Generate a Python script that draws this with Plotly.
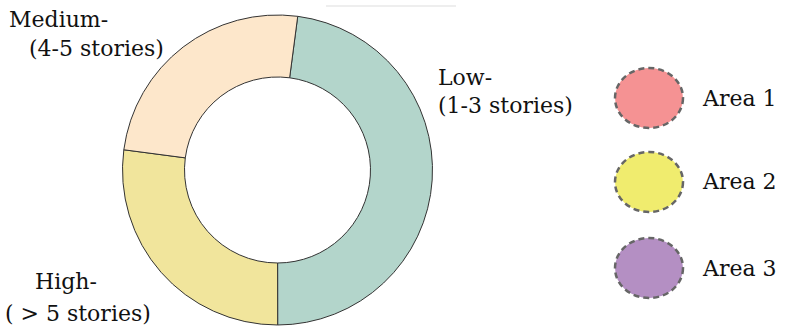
import plotly.graph_objects as go

# Data
categories = ["Low-<br>(1-3 stories)", "High-<br>( > 5 stories)", "Medium-<br>(4-5 stories)"]
values = [47.9, 27.1, 25.0]
slice_colors = ["#b3d5cb", "#f1e59c", "#fde7cb"]

legend_labels = ["Area 1", "Area 2", "Area 3"]
legend_colors = ["#f59293", "#f0ec6e", "#b48fc3"]

FONT = "DejaVu Serif"
W, H = 795, 335

fig = go.Figure()
fig.add_trace(go.Pie(
    labels=categories, values=values, sort=False, direction="clockwise",
    rotation=7.5, hole=0.6, textinfo="none", hoverinfo="label+percent",
    marker=dict(colors=slice_colors, line=dict(color="#333333", width=1)),
    domain=dict(x=[122 / W, 433 / W], y=[1 - 325 / H, 1 - 15 / H]),
    showlegend=False,
))

def px(x):
    return x / W

def py(y):
    return 1 - y / H

annotations = []
# slice labels (two lines each)
label_lines = [
    ("Medium-", 7, 20), ("(4-5 stories)", 27, 48),
    ("Low-", 436, 78), ("(1-3 stories)", 436, 106),
    ("High-", 33, 281), ("( > 5 stories)", 3, 313),
]
for txt, x, y in label_lines:
    annotations.append(dict(text=txt, x=px(x), y=py(y), xref="paper", yref="paper",
                            xanchor="left", yanchor="middle", showarrow=False,
                            font=dict(family=FONT, size=22, color="#111111")))

shapes = []
legend_y = [98, 182, 268]
for lab, col, yc in zip(legend_labels, legend_colors, legend_y):
    shapes.append(dict(type="circle", xref="paper", yref="paper",
                       x0=px(615), x1=px(683), y0=py(yc + 30), y1=py(yc - 30),
                       fillcolor=col, line=dict(color="#666666", width=2.5, dash="6px,4px")))
    annotations.append(dict(text=lab, x=px(700), y=py(yc), xref="paper", yref="paper",
                            xanchor="left", yanchor="middle", showarrow=False,
                            font=dict(family=FONT, size=22, color="#111111")))

# faint line at top
shapes.append(dict(type="line", xref="paper", yref="paper",
                   x0=px(326), x1=px(456), y0=py(6), y1=py(6),
                   line=dict(color="#dddddd", width=1)))

fig.update_layout(
    width=W, height=H, margin=dict(l=0, r=0, t=0, b=0),
    paper_bgcolor="white", plot_bgcolor="white",
    annotations=annotations, shapes=shapes,
)

fig.write_html("out.html")
